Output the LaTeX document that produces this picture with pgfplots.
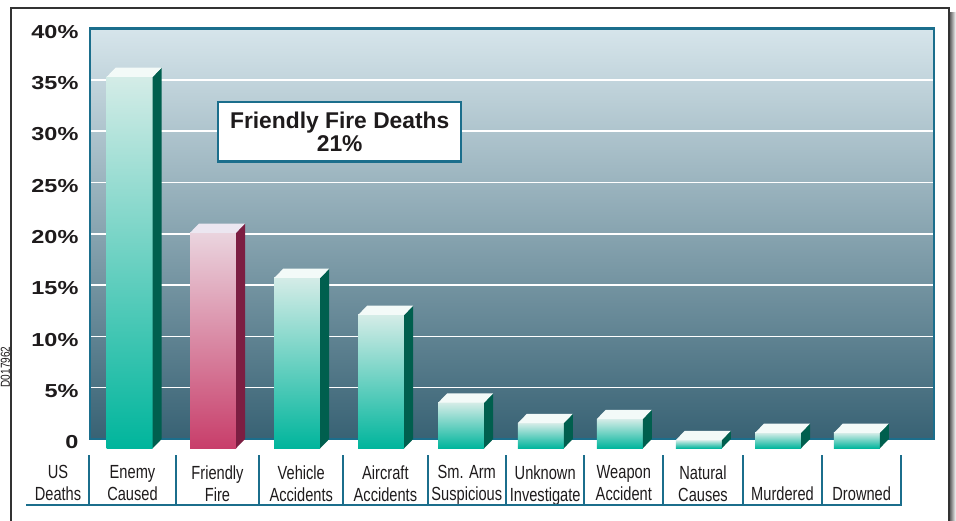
\documentclass[border=0pt]{standalone}
\usepackage{pgfplots}
\pgfplotsset{compat=1.18}
\usepackage{pgfplotstable}
\usepackage{fontspec}
\setmainfont{Liberation Sans}
\newfontfamily\condfont[FakeStretch=0.77]{Liberation Sans}
\newfontfamily\tickfont[FakeStretch=1.25]{Liberation Sans}

\definecolor{frameteal}{RGB}{27,110,140}
\definecolor{bgtop}{RGB}{214,229,235}
\definecolor{bgmid}{RGB}{134,168,183}
\definecolor{bgbot}{RGB}{56,98,116}
\definecolor{gtop}{RGB}{212,236,231}
\definecolor{gbot}{RGB}{0,181,156}
\definecolor{gside}{RGB}{0,95,78}
\definecolor{gcap}{RGB}{243,250,248}
\definecolor{ptop}{RGB}{234,212,222}
\definecolor{pbot}{RGB}{200,62,106}
\definecolor{pside}{RGB}{124,30,66}
\definecolor{pcap}{RGB}{236,231,241}
\definecolor{txt}{RGB}{30,27,28}

% front-face centre (px) and share of US deaths (%)
\pgfplotstableread{
c v
129.7 36.2
213.0 21.0
297.2 16.6
381.2 13.0
461.2 4.45
540.8 2.45
619.8 2.85
698.8 0.8
778.0 1.5
856.8 1.5
}\bars

\begin{document}
\begin{tikzpicture}[x=1pt,y=1pt]
\path[use as bounding box] (-90,-81) rectangle (866,439);
% outer frame
\shade[left color=black!60, right color=white] (860,-90) rectangle (866,426);
\draw[black!80, line width=1.3pt] (-79,-90) -- (-79,431) -- (859,431) -- (859,-90);
\begin{axis}[
  scale only axis, width=844pt, height=410.4pt,
  at={(0pt,0pt)}, anchor=south west,
  xmin=90, xmax=934, ymin=0, ymax=40,
  clip=false,
  axis background/.style={shade, top color=bgtop, middle color=bgmid, bottom color=bgbot},
  axis line style={draw=frameteal, line width=2.5pt},
  ytick={5,10,...,35},
  yticklabels={5\%,10\%,15\%,20\%,25\%,30\%,35\%},
  extra y ticks={0,40}, extra y tick labels={0,40\%},
  extra y tick style={grid=none},
  ymajorgrids, grid style={white, line width=1.5pt},
  major tick length=0pt,
  yticklabel style={font=\tickfont\bfseries\fontsize{18.8}{20}\selectfont, text=txt, xshift=-8pt, yshift=-3.3pt},
  xtick={132.5,217.5,301.3,385.4,466.8,545.2,623.8,703,782.5,861.7},
  xticklabels={{Enemy\\Caused},{Friendly\\Fire},{Vehicle\\Accidents},{Aircraft\\Accidents},{Sm. Arm\\Suspicious},{Unknown\\Investigate},{Weapon\\Accident},{Natural\\Causes},{\phantom{X}\\Murdered},{\phantom{X}\\Drowned}},
  xticklabel style={font=\condfont\fontsize{19}{22}\selectfont, text=txt, align=center, anchor=north, inner sep=0pt, yshift=-26.5pt},
]
\pgfplotsinvokeforeach{0,...,9}{
  \pgfplotstablegetelem{#1}{c}\of\bars \pgfmathsetmacro\cc{\pgfplotsretval}
  \pgfplotstablegetelem{#1}{v}\of\bars \pgfmathsetmacro\vv{\pgfplotsretval}
  \pgfmathsetmacro\xl{\cc-23}
  \pgfmathsetmacro\xr{\cc+23}
  \pgfmathsetmacro\xb{\cc+32}
  \pgfmathsetmacro\xbl{\cc-14}
  \pgfmathsetmacro\yf{\vv-0.906}
  \ifnum#1=1 \def\fa{ptop}\def\fb{pbot}\def\fs{pside}\def\fc{pcap}%
  \else \def\fa{gtop}\def\fb{gbot}\def\fs{gside}\def\fc{gcap}\fi
  \edef\temp{%
   \noexpand\addplot[draw=none, mark=none, top color=\fa, bottom color=\fb] coordinates {(\xl,-0.906) (\xr,-0.906) (\xr,\yf) (\xl,\yf)} -- cycle;
   \noexpand\addplot[draw=none, mark=none, fill=\fs] coordinates {(\xr,-0.906) (\xb,0) (\xb,\vv) (\xr,\yf)} -- cycle;
   \noexpand\addplot[draw=none, mark=none, fill=\fc] coordinates {(\xl,\yf) (\xr,\yf) (\xb,\vv) (\xbl,\vv)} -- cycle;
  }\temp
}
\end{axis}
% label strip
\draw[frameteal, line width=2.2pt] (-63.5,-66) -- (812,-66);
\foreach \d in {-0.7,85.7,169.3,253.3,337.5,416,494.3,573.3,652.7,732.3,811} {
  \draw[frameteal, line width=2pt] (\d,-16) -- (\d,-66);
}
\node[anchor=north, inner sep=0pt, align=center, text=txt, font=\condfont\fontsize{19}{22}\selectfont] at (-32,-26.5) {US\\Deaths};
% annotation box
\node[draw=frameteal, line width=2.5pt, fill=white, minimum width=243pt, minimum height=59.5pt, align=center, text=txt, font=\bfseries\fontsize{22.8}{22.7}\selectfont] at (249.7,307) {Friendly Fire Deaths\\21\%};
% side code
\node[rotate=90, anchor=base, inner sep=0pt, text=txt, font=\condfont\fontsize{13}{14}\selectfont] at (-80,72) {D017962};
\end{tikzpicture}
\end{document}
